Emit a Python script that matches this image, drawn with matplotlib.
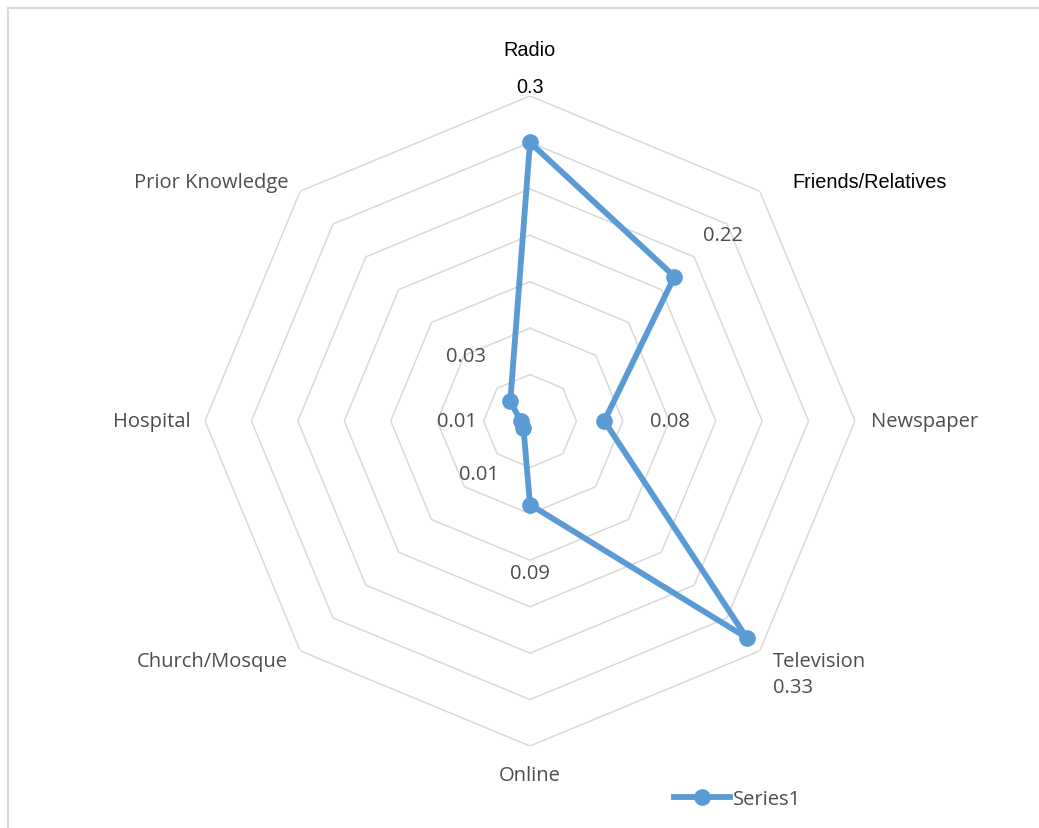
import matplotlib.pyplot as plt
import numpy as np
from matplotlib.lines import Line2D

categories = ['Radio', 'Friends/Relatives', 'Newspaper', 'Television',
              'Online', 'Church/Mosque', 'Hospital', 'Prior Knowledge']
values = [0.30, 0.22, 0.08, 0.33, 0.09, 0.01, 0.01, 0.03]
value_labels = ['0.3', '0.22', '0.08', '0.33', '0.09', '0.01', '0.01', '0.03']
rings = [0.05, 0.10, 0.15, 0.20, 0.25, 0.30, 0.35]

# where the labels sit (angle in degrees clockwise from top, radius)
cat_pos = [(0, 0.40), (54.8, 0.448), (90, 0.425), (129.6, 0.405),
           (180, 0.381), (232.9, 0.429), (270, 0.407), (306.9, 0.429)]
val_pos = [(0, 0.36), (46.1, 0.289), (90, 0.151), (135.3, 0.403),
           (180, 0.164), (224, 0.079), (270, 0.079), (315.4, 0.098)]

blue = '#5B9BD5'
grey_text = '#4D4D4D'

fig = plt.figure(figsize=(10.39, 8.29), dpi=100)
ax = fig.add_axes([0.1973, 0.0989, 0.6256, 0.7841], projection='polar')
ax.set_theta_offset(np.pi / 2)
ax.set_theta_direction(-1)
ax.set_ylim(0, 0.35)
ax.grid(False)
ax.spines['polar'].set_visible(False)
ax.set_xticks([])
ax.set_yticks([])
ax.patch.set_alpha(0)

theta = np.linspace(0, 2 * np.pi, len(categories), endpoint=False)
theta_c = np.append(theta, theta[0])
for r in rings:
    ax.plot(theta_c, [r] * len(theta_c), color='#D9D9D9', lw=1.1, zorder=1)

vals_c = values + values[:1]
ax.plot(theta_c, vals_c, color=blue, lw=4.2, zorder=3)
ax.plot(theta, values, 'o', color=blue, ms=11, zorder=4, linestyle='none')

for i, name in enumerate(categories):
    t, r = cat_pos[i]
    if name in ('Radio', 'Friends/Relatives'):
        ax.text(np.radians(t), r, name, ha='center', va='center',
                fontsize=14.3, color='black', family='Liberation Sans')
    else:
        ax.text(np.radians(t), r, name, ha='center', va='center',
                fontsize=14.5, color=grey_text, family='Open Sans')

for i, lab in enumerate(value_labels):
    t, r = val_pos[i]
    if i == 0:
        ax.text(np.radians(t), r, lab, ha='center', va='center',
                fontsize=14.3, color='black', family='Liberation Sans')
    else:
        ax.text(np.radians(t), r, lab, ha='center', va='center',
                fontsize=14.5, color=grey_text, family='Open Sans')

handle = Line2D([], [], color=blue, lw=4.2, marker='o', ms=11)
fig.legend([handle], ['Series1'], loc='center', bbox_to_anchor=(0.71, 0.035),
           frameon=False, prop={'family': 'Open Sans', 'size': 14.5},
           labelcolor=grey_text, handlelength=2.8, handletextpad=0.15)

# chart frame
fig.add_artist(Line2D([0.008, 1.0], [1 - 9 / 829] * 2, color='#D9D9D9', lw=1.5))
fig.add_artist(Line2D([0.008, 0.008], [0.0, 1 - 9 / 829], color='#D9D9D9', lw=1.5))

fig.savefig('out.png', dpi=100)
